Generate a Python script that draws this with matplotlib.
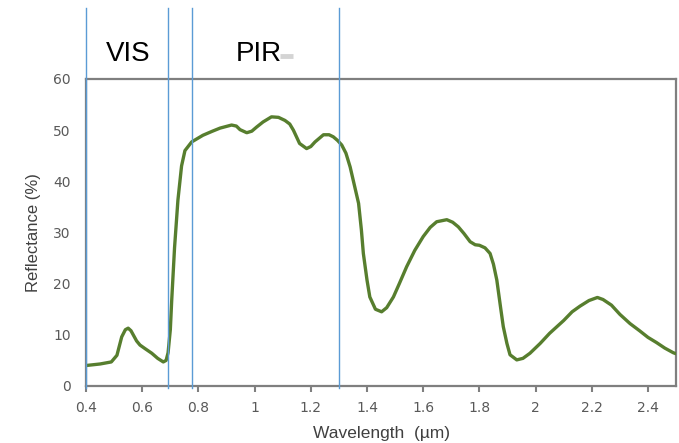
import matplotlib
matplotlib.use("Agg")
import matplotlib.pyplot as plt

# Spektralna krzywa odbicia roślinności (odczyt z obrazka)
wavelength = [0.40, 0.45, 0.49, 0.51, 0.527, 0.54, 0.55, 0.56, 0.568, 0.58,
              0.592, 0.61, 0.634, 0.655, 0.675, 0.685, 0.692, 0.70, 0.705, 0.715,
              0.727, 0.74, 0.752, 0.776, 0.816, 0.85, 0.877, 0.918, 0.935, 0.948,
              0.972, 0.99, 1.007, 1.03, 1.06, 1.085, 1.108, 1.125, 1.138, 1.16,
              1.185, 1.20, 1.215, 1.245, 1.265, 1.28, 1.295, 1.31, 1.325, 1.34,
              1.351, 1.37, 1.38, 1.387, 1.40, 1.41, 1.43, 1.452, 1.47, 1.494,
              1.515, 1.541, 1.57, 1.60, 1.625, 1.648, 1.684, 1.705, 1.725, 1.745,
              1.767, 1.785, 1.80, 1.82, 1.838, 1.85, 1.862, 1.875, 1.885, 1.898,
              1.909, 1.933, 1.955, 1.98, 2.016, 2.05, 2.10, 2.13, 2.158, 2.19,
              2.22, 2.24, 2.27, 2.30, 2.336, 2.37, 2.40, 2.43, 2.46, 2.49, 2.50]
reflectance = [4.0, 4.3, 4.7, 6.0, 9.6, 11.0, 11.3, 10.8, 10.0, 8.8,
               8.0, 7.3, 6.4, 5.4, 4.7, 5.0, 6.5, 11.0, 16.8, 27.0,
               36.3, 43.0, 46.0, 47.7, 49.0, 49.8, 50.4, 51.0, 50.8, 50.1,
               49.5, 49.8, 50.6, 51.6, 52.6, 52.5, 51.9, 51.2, 50.0, 47.4,
               46.4, 46.8, 47.7, 49.1, 49.1, 48.7, 48.0, 47.1, 45.5, 42.8,
               40.2, 35.7, 30.5, 25.9, 20.7, 17.4, 15.0, 14.5, 15.3, 17.4,
               20.0, 23.3, 26.5, 29.2, 31.0, 32.1, 32.5, 32.0, 31.1, 29.8,
               28.2, 27.6, 27.5, 27.0, 25.9, 23.8, 20.7, 15.5, 11.6, 8.3,
               6.1, 5.1, 5.4, 6.4, 8.3, 10.3, 12.8, 14.5, 15.6, 16.7,
               17.3, 16.9, 15.8, 14.0, 12.2, 10.8, 9.5, 8.5, 7.4, 6.5, 6.3]

# granice zakresów widma
band_edges = [0.40, 0.69, 0.776, 1.30]
band_names = ["VIS", "PIR"]
band_label_x = [0.55, 1.016]  # środek etykiet (długość fali)

x_ticks = [0.4, 0.6, 0.8, 1.0, 1.2, 1.4, 1.6, 1.8, 2.0, 2.2, 2.4]
x_tick_labels = ["0.4", "0.6", "0.8", "1", "1.2", "1.4", "1.6", "1.8", "2", "2.2", "2.4"]
y_ticks = [0, 10, 20, 30, 40, 50, 60]

fig = plt.figure(figsize=(6.79, 4.43), dpi=100)
ax = fig.add_axes([0.1267, 0.1287, 0.8690, 0.6930])

ax.plot(wavelength, reflectance, color="#577e2e", linewidth=2.4,
        solid_capstyle="round", zorder=3)

for x in band_edges:
    ax.axvline(x, ymin=-0.007, ymax=1.23, color="#5b9bd5", linewidth=1.0,
               clip_on=False, zorder=4)

# etykiety zakresów nad wykresem
for name, xc in zip(band_names, band_label_x):
    ax.text(xc, 1.08, name, transform=ax.get_xaxis_transform(), ha="center",
            va="center", fontsize=20, family="Liberation Sans", color="black")
# szara kreska za "PIR" (artefakt z oryginału)
ax.plot([1.09, 1.137], [1.075, 1.075], transform=ax.get_xaxis_transform(),
        color="#d4d4d4", linewidth=3.5, clip_on=False, solid_capstyle="butt")

ax.set_xlim(0.4, 2.5)
ax.set_ylim(0, 60)
ax.set_xticks(x_ticks)
ax.set_xticklabels(x_tick_labels)
ax.set_yticks(y_ticks)

for s in ax.spines.values():
    s.set_color("#7f7f7f")
    s.set_linewidth(1.6)

ax.tick_params(axis="x", direction="out", length=4, width=1.5, color="#7f7f7f",
               labelsize=10, labelcolor="#595959", pad=7)
ax.tick_params(axis="y", length=0, labelsize=10, labelcolor="#595959", pad=11)

ax.set_xlabel("Wavelength  (µm)", fontsize=12.5, family="Liberation Sans",
              color="#404040", labelpad=8)
ax.set_ylabel("Reflectance (%)", fontsize=12, family="Liberation Sans",
              color="#404040", labelpad=9)

fig.savefig("out.png", dpi=100)
